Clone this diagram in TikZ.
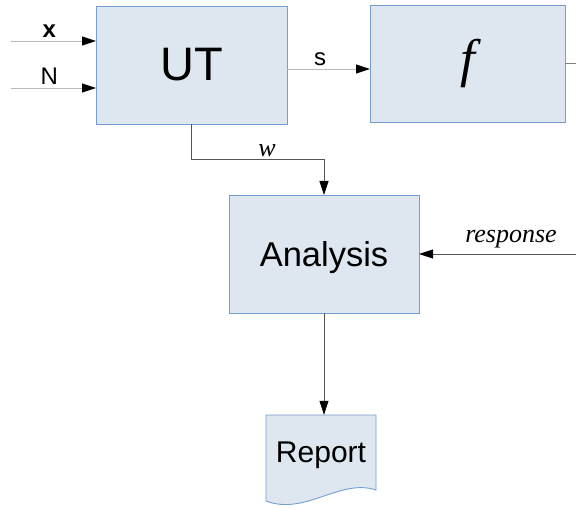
\documentclass[tikz,border=0pt]{standalone}
\usepackage{fontspec}
\setmainfont{Liberation Serif}
\setsansfont{Liberation Sans}
\usetikzlibrary{arrows.meta}

\definecolor{boxfill}{HTML}{DEE6EF}
\definecolor{boxline}{HTML}{729FCF}
\definecolor{lightline}{HTML}{B8B8B8}
\definecolor{darkline}{HTML}{555555}

\begin{document}
\begin{tikzpicture}[x=1pt,y=-1pt,
    block/.style={draw=boxline, fill=boxfill, line width=0.9pt, inner sep=0pt, outer sep=0pt},
    arr/.style={line width=0.8pt, -{Triangle[length=14pt,width=9pt,color=black]}},
    lbl/.style={font=\sffamily\fontsize{24}{24}\selectfont}]

    \useasboundingbox (0,0) rectangle (576,508);

    \coordinate (xin) at (11,41);
    \coordinate (nin) at (11,88);
    \coordinate (srow) at (0,69);
    \coordinate (wbend) at (191.5,159);
    \coordinate (respin) at (576,254);
    \coordinate (fout) at (576,63.5);
    % report sheet
    \coordinate (r1) at (266,415);
    \coordinate (r2) at (376,415);
    \coordinate (r3) at (376,490);
    \coordinate (r4) at (266,501);

    \node[block, minimum width=191pt, minimum height=118pt,
          font=\sffamily\fontsize{47}{47}\selectfont] (ut) at (191.5,65) {UT};
    \node[block, minimum width=195pt, minimum height=117pt,
          font=\fontsize{53}{53}\selectfont\itshape] (f) at (467.5,63.5) {f};
    \node[block, minimum width=190pt, minimum height=118pt, text depth=0pt,
          font=\sffamily\fontsize{34.5}{34.5}\selectfont] (analysis) at (324,254) {Analysis};

    \draw[draw=boxline, fill=boxfill, line width=0.9pt]
      (r4) -- (r1) -- (r2) -- (r3) .. controls (340,478) and (305,516) .. (r4) -- cycle;
    \node[minimum width=110pt, minimum height=75pt, inner sep=0pt, text depth=0pt,
          font=\sffamily\fontsize{30}{30}\selectfont] (report) at (321,452.5) {Report};

    \draw[lightline, arr] (xin) -- (xin -| ut.west)
      node[lbl, pos=0.45, above, black] (xlab) {\textbf{x}};
    \draw[lightline, arr] (nin) -- (nin -| ut.west)
      node[lbl, pos=0.45, above, black] (nlab) {N};
    \draw[lightline, arr] (ut.east |- srow) -- (f.west |- srow)
      node[lbl, pos=0.4, above, black] (slab) {s};
    \draw[gray, line width=0.8pt] (f.east) -- (fout);

    \draw[darkline, arr] (ut.south) -- (wbend) -| (analysis.north);
    \node[anchor=base, font=\fontsize{26}{26}\selectfont\itshape] (wlab) at (267,157) {w};

    \draw[darkline, arr] (respin) -- (analysis.east);
    \node[anchor=base, font=\fontsize{26}{26}\selectfont\itshape] (rlab) at (511,242) {response};

    \draw[darkline, arr] (analysis.south) -- (analysis.south |- report.north);

\end{tikzpicture}
\end{document}
